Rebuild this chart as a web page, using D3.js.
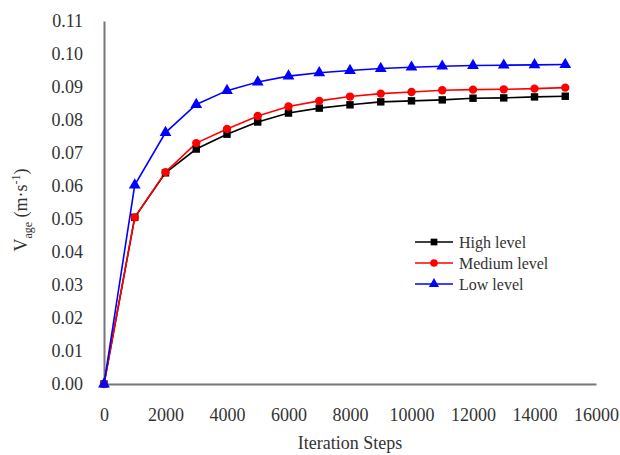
<!DOCTYPE html>
<html>
<head lang="en">
    <meta charset="UTF-8">
    <title></title>
    <script src="https://cdn.jsdelivr.net/npm/d3@7/dist/d3.min.js"></script>
    <style>
        body { margin: 0; background: #fff; }
        svg text { font-family: "Times New Roman", "Liberation Serif", "DejaVu Serif", serif; fill: #333; }
    </style>
</head>
<body>

<script>

    var steps = [0,1000,2000,3000,4000,5000,6000,7000,8000,9000,10000,11000,12000,13000,14000,15000];
    var highLevel   = [0,0.0505,0.0640,0.0712,0.0757,0.0794,0.0821,0.0836,0.0846,0.0855,0.0858,0.0861,0.0866,0.0867,0.0870,0.0872];
    var mediumLevel = [0,0.0505,0.0642,0.0730,0.0773,0.0812,0.0841,0.0858,0.0871,0.0880,0.0885,0.0890,0.0892,0.0893,0.0895,0.0898];
    var lowLevel    = [0,0.0603,0.0762,0.0847,0.0889,0.0915,0.0933,0.0943,0.0950,0.0956,0.0960,0.0963,0.0965,0.0966,0.0967,0.0968];
    var seriesNames = ["High level","Medium level","Low level"];
    var xTicks = [0,2000,4000,6000,8000,10000,12000,14000,16000];
    var yTicks = [0,0.01,0.02,0.03,0.04,0.05,0.06,0.07,0.08,0.09,0.10,0.11];

    var series = [
        {name: seriesNames[0], values: highLevel,   color: "#000000", shape: d3.symbolSquare},
        {name: seriesNames[1], values: mediumLevel, color: "#ff0000", shape: d3.symbolCircle},
        {name: seriesNames[2], values: lowLevel,    color: "#0000ff", shape: d3.symbolTriangle}
    ];

    var serif = '"Times New Roman", "Liberation Serif", "DejaVu Serif", serif';
    var width = 620, height = 455;

    var svg = d3.select("body").append("svg")
            .attr("width", width)
            .attr("height", height);

    var x = d3.scaleLinear().domain([0,16000]).range([104,596]);
    var y = d3.scaleLinear().domain([0,0.11]).range([384,21]);

    // axes, no tick marks
    var xAxis = svg.append("g")
            .attr("transform","translate(0," + y(0) + ")")
            .call(d3.axisBottom(x).tickValues(xTicks).tickSize(0).tickPadding(24).tickFormat(d3.format("d")));
    var yAxis = svg.append("g")
            .attr("transform","translate(" + x(0) + ",0)")
            .call(d3.axisLeft(y).tickValues(yTicks).tickSize(0).tickPadding(21).tickFormat(d3.format(".2f")));

    xAxis.attr("font-family", serif).attr("font-size", 18);
    yAxis.attr("font-family", serif).attr("font-size", 18);
    svg.selectAll(".domain").attr("stroke","#777").attr("stroke-width",2);
    svg.selectAll(".tick text").attr("fill","#333");

    var line = d3.line()
            .x(function(d,i){ return x(steps[i]); })
            .y(function(d){ return y(d); });

    var g = svg.append("g");
    series.forEach(function(s){
        g.append("path")
                .attr("d", line(s.values))
                .attr("fill","none")
                .attr("stroke", s.color)
                .attr("stroke-width", 1.6);
    });
    series.forEach(function(s){
        g.selectAll(null)
                .data(s.values)
                .enter()
                .append("path")
                .attr("d", d3.symbol().type(s.shape).size(s.shape === d3.symbolTriangle ? 60 : 55))
                .attr("transform", function(d,i){ return "translate(" + x(steps[i]) + "," + y(d) + ")"; })
                .attr("fill", s.color);
    });

    // legend
    var legend = svg.append("g").attr("transform","translate(415,242)");
    series.forEach(function(s,i){
        var row = legend.append("g").attr("transform","translate(0," + (i*21) + ")");
        row.append("line").attr("x1",0).attr("x2",38).attr("y1",0).attr("y2",0)
                .attr("stroke", s.color).attr("stroke-width",1.6);
        row.append("path").attr("d", d3.symbol().type(s.shape).size(45)())
                .attr("transform","translate(19,0)").attr("fill", s.color);
        row.append("text").attr("x",44).attr("y",5.5)
                .style("font-size","16px").text(s.name);
    });

    // axis titles
    svg.append("text")
            .attr("x", 350).attr("y", 449)
            .attr("text-anchor","middle")
            .style("font-size","18px")
            .text("Iteration Steps");

    var yl = svg.append("text")
            .attr("transform","translate(27,210) rotate(-90)")
            .attr("text-anchor","middle")
            .style("font-size","18px");
    yl.append("tspan").text("V");
    yl.append("tspan").attr("dy",5).style("font-size","12px").text("age");
    yl.append("tspan").attr("dy",-5).text(" (m\u00b7s");
    yl.append("tspan").attr("dy",-7).style("font-size","12px").text("-1");
    yl.append("tspan").attr("dy",7).text(")");

</script>
</body>
</html>
